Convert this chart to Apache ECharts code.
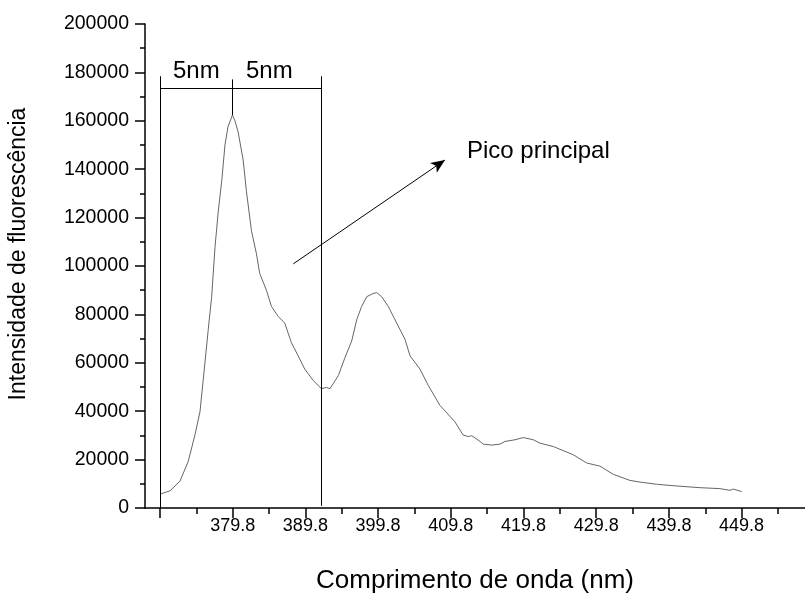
<!DOCTYPE html>
<html>
<head>
<meta charset="utf-8">
<script src="https://cdn.jsdelivr.net/npm/echarts@6/dist/echarts.min.js"></script>
<style>html,body{margin:0;padding:0;background:#fff;overflow:hidden;}#c{width:805px;height:599px;}</style>
</head>
<body>
<div id="c"></div>
<script>
// Wavelength (nm) and fluorescence intensity
const wavelength = [369.80,371.18,372.55,373.69,374.61,375.30,375.76,376.44,376.91,377.37,377.82,378.29,378.74,379.15,379.77,380.11,380.55,381.24,381.69,382.38,383.07,383.52,384.44,385.13,386.05,386.96,387.88,388.80,389.71,390.87,392.01,392.70,393.18,394.33,395.25,396.17,396.86,397.54,398.23,398.69,399.10,399.61,400.29,401.20,402.36,403.50,404.19,405.56,406.71,408.31,410.38,411.48,412.21,412.68,413.82,414.27,415.43,416.57,417.26,418.63,419.77,421.15,422.07,423.90,426.65,428.49,430.32,432.15,434.45,435.82,438.12,440.87,444.07,446.82,448.20,448.66,449.81];
const intensity = [5700,7100,11100,19300,30200,39700,53300,73800,87300,107800,122700,135000,150000,157500,162400,160000,155400,143800,130900,114600,105000,96900,90000,83300,79200,76400,68300,62900,57400,52700,49300,49800,49300,54700,62200,69000,77800,83300,87300,88000,88600,89000,87300,83300,76400,69700,62900,57400,50600,42400,35600,30200,29500,29900,27500,26400,26000,26400,27500,28200,29100,28200,26800,25400,22000,18600,17300,13900,11400,10700,9800,9100,8400,8000,7300,7800,6800];
const xMajorTicks = [369.8,379.8,389.8,399.8,409.8,419.8,429.8,439.8,449.8];
const xLabelTicks = [379.8,389.8,399.8,409.8,419.8,429.8,439.8,449.8];
const xMinorTicks = [374.8,384.8,394.8,404.8,414.8,424.8,434.8,444.8,454.8];
// annotation positions (data units)
const bracketLeft = 369.8, bracketMid = 379.8, bracketRight = 392.0;
const bracketTop = 178400, bracketBar = 173500, bracketMidTop = 177100;
const arrowFrom = [388.14, 100900], arrowTo = [409.0, 143800];

const data = wavelength.map((w, i) => [w, intensity[i]]);
const FONT = 'Liberation Sans';
const chart = echarts.init(document.getElementById('c'), null, {width: 805, height: 599});
const xMin = 367.74, xMax = 458.52;
chart.setOption({
  animation: false,
  backgroundColor: '#fff',
  grid: {left: 145, width: 660, top: 24, height: 490, containLabel: false},
  xAxis: [{
    type: 'value', min: xMin, max: xMax,
    name: 'Comprimento de onda (nm)', nameLocation: 'middle', nameGap: 60,
    nameTextStyle: {fontFamily: FONT, fontSize: 26, color: '#000'},
    axisLine: {lineStyle: {color: '#000', width: 1.5}},
    axisTick: {show: true, length: 10, lineStyle: {color: '#000', width: 1.5}, customValues: xMajorTicks},
    axisLabel: {customValues: xLabelTicks, fontFamily: FONT, fontSize: 18, color: '#000', margin: 9,
      formatter: v => v.toFixed(1)},
    splitLine: {show: false}
  }, {
    type: 'value', min: xMin, max: xMax, position: 'bottom',
    axisLine: {show: false},
    axisTick: {show: true, length: 6, lineStyle: {color: '#000', width: 1.5}, customValues: xMinorTicks},
    axisLabel: {show: false},
    splitLine: {show: false}
  }],
  yAxis: {
    type: 'value', min: 0, max: 200000, interval: 20000,
    axisLine: {show: true, lineStyle: {color: '#000', width: 1.5}},
    axisTick: {show: true, length: 10, lineStyle: {color: '#000', width: 1.5}},
    minorTick: {show: true, splitNumber: 2, length: 5, lineStyle: {color: '#000', width: 1.5}},
    axisLabel: {fontFamily: FONT, fontSize: 19.5, color: '#000', margin: 16, formatter: v => String(v)},
    splitLine: {show: false}
  },
  series: [{
    type: 'line', data: data, showSymbol: false, smooth: false,
    lineStyle: {color: '#666', width: 1},
    markLine: {
      silent: true, symbol: 'none', animation: false,
      lineStyle: {color: '#000', width: 1, type: 'solid'},
      label: {show: false},
      data: [
        [{coord: [bracketLeft, 0]}, {coord: [bracketLeft, bracketTop]}],
        [{coord: [bracketRight, 900]}, {coord: [bracketRight, bracketTop]}],
        [{coord: [bracketMid, 162400]}, {coord: [bracketMid, bracketMidTop]}],
        [{coord: [bracketLeft, bracketBar]}, {coord: [bracketRight, bracketBar]}],
        [{coord: arrowFrom, symbol: 'none'}, {coord: arrowTo, symbol: 'arrow', symbolSize: [9, 14]}]
      ]
    }
  }],
  graphic: [
    {type: 'text', x: 19, y: 254, rotation: Math.PI / 2,
      style: {text: 'Intensidade de fluorescência', font: '23px "Liberation Sans"', fill: '#000', align: 'center', verticalAlign: 'middle'}},
    {type: 'text', left: 173, top: 59, style: {text: '5nm', font: '24px "Liberation Sans"', fill: '#000'}},
    {type: 'text', left: 246, top: 59, style: {text: '5nm', font: '24px "Liberation Sans"', fill: '#000'}},
    {type: 'text', left: 467, top: 139, style: {text: 'Pico principal', font: '24px "Liberation Sans"', fill: '#000'}}
  ]
});
</script>
</body>
</html>
